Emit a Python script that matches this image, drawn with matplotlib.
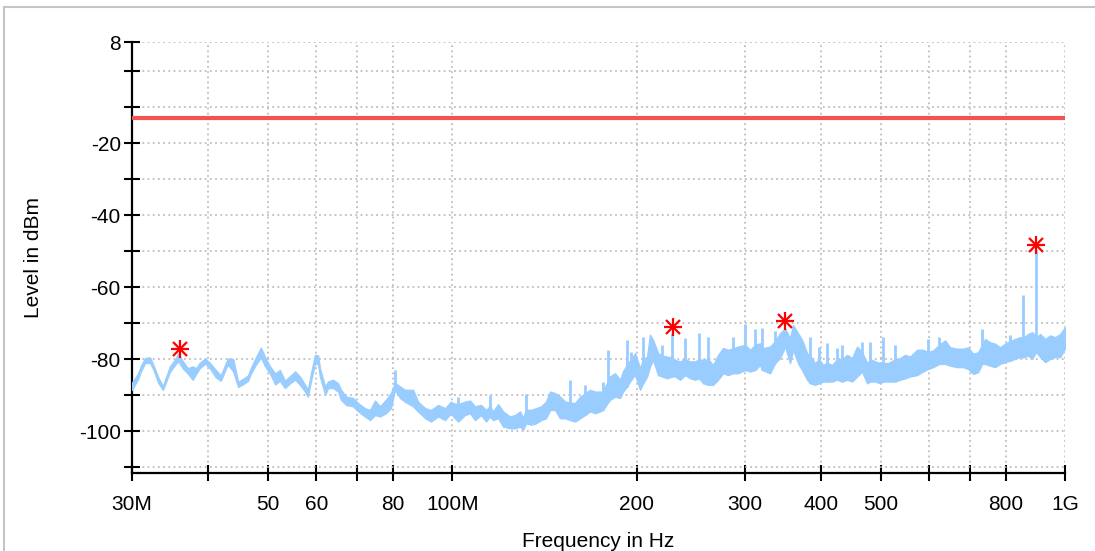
"""
EMI scan: measured level vs. frequency with limit line and peak markers.
"""
import matplotlib
matplotlib.use("Agg")
import matplotlib.pyplot as plt
from matplotlib.lines import Line2D
import numpy as np

plt.rcParams['font.family'] = ['Liberation Sans', 'DejaVu Sans']

# trace band (MHz, upper edge dBm, lower edge dBm)
freq_mhz = [30.0, 30.7, 31.0, 31.5, 32.1, 32.5, 33.1, 33.7, 34.1, 34.6, 35.3, 35.7,
            36.3, 37.0, 37.7, 38.2, 38.7, 39.5, 40.2, 41.1, 41.9, 42.6, 43.0, 43.9,
            44.7, 45.5, 46.4, 46.9, 47.8, 48.7, 49.5, 50.4, 51.4, 52.3, 53.3, 54.5,
            55.4, 56.4, 57.5, 58.1, 58.8, 59.7, 60.4, 60.8, 62.0, 62.7, 63.9, 65.1,
            65.8, 67.1, 68.9, 70.2, 72.0, 73.4, 74.8, 76.2, 77.9, 79.4, 80.6, 82.2,
            83.7, 86.3, 87.9, 90.3, 92.3, 94.8, 97.3, 99.5,
            100.3, 102.2, 104.9, 106.9, 108.9, 111.4, 113.5, 115.2, 116.5, 118.8,
            121.0, 124.2, 126.6, 129.0, 130.5, 131.9, 134.4, 137.0, 139.6, 142.2,
            144.4, 147.1, 149.9, 152.8, 155.6, 158.6, 161.6, 164.7, 167.8, 171.0,
            174.2, 176.2,
            179.5, 180.9, 184.3, 187.8, 189.9, 192.8, 195.8, 198.7, 202.5, 204.8,
            207.9, 210.2, 212.6, 216.7, 220.0, 224.1, 228.4, 231.0, 235.4, 239.8,
            244.4, 249.1, 252.8, 256.7, 261.5, 266.5, 271.5, 276.7, 281.9, 287.2,
            292.7, 300.5, 306.2, 312.0, 317.9,
            320.3, 330.1, 336.3, 342.7, 349.2, 355.8, 359.9, 366.7, 372.2, 379.3,
            383.6, 390.9, 396.8, 402.9, 409.0, 416.7, 424.6, 432.7, 440.9, 449.3,
            457.8, 466.4, 475.3, 480.7, 489.9, 499.0, 504.7, 514.3, 528.0, 538.1,
            548.3, 558.6, 573.5, 586.7,
            597.8, 609.2, 623.1, 637.3, 649.4, 666.7, 681.9, 694.9, 708.0, 721.3,
            732.2, 740.5, 754.6, 768.8, 783.5, 798.5, 813.5, 829.0, 844.9, 854.5,
            870.6, 883.9, 897.2, 910.8, 928.2, 945.7, 963.7, 982.1, 1000.0]

level_hi = [-86.5, -84.0, -82.0, -79.7, -79.5, -81.5, -85.0, -87.5, -85.0, -82.0, -80.0, -78.5,
            -80.5, -82.5, -82.0, -82.5, -81.0, -79.8, -81.0, -83.0, -84.5, -81.5, -79.8, -80.0,
            -86.3, -85.5, -84.5, -82.5, -79.5, -76.8, -79.5, -82.0, -84.0, -83.0, -86.0, -84.5,
            -83.4, -84.8, -87.1, -88.5, -83.9, -78.8, -79.0, -82.5, -87.6, -86.2, -85.7, -86.7,
            -88.5, -90.4, -90.8, -92.2, -93.6, -94.1, -91.5, -93.1, -91.3, -89.4, -86.5, -87.6,
            -88.5, -88.5, -91.8, -93.6, -94.1, -92.7, -93.6, -91.8,
            -92.2, -92.5, -91.8, -91.5, -93.1, -92.7, -94.1, -93.0, -94.5, -92.5,
            -94.5, -95.9, -95.5, -94.5, -96.4, -94.0, -94.1, -93.6, -93.1, -91.8,
            -89.0, -89.4, -90.4, -91.8, -92.0, -92.2, -90.4, -89.5, -88.5, -89.0,
            -89.0, -89.0,
            -86.0, -84.8, -83.9, -85.7, -83.4, -81.5, -80.0, -78.3, -82.5, -80.0,
            -79.3, -73.2, -74.6, -78.3, -79.0, -79.3, -79.5, -80.2, -80.6, -80.0,
            -80.6, -80.6, -80.0, -80.2, -80.0, -81.6, -78.8, -76.9, -77.4, -77.0,
            -76.5, -76.0, -77.4, -76.0, -75.6,
            -77.0, -76.5, -75.0, -72.8, -71.4, -74.2, -70.5, -72.8, -74.6, -78.3,
            -79.0, -81.1, -80.0, -81.6, -81.0, -81.6, -80.0, -80.0, -78.8, -79.7,
            -76.5, -78.0, -81.1, -80.0, -80.6, -81.1, -81.0, -81.1, -80.0, -79.7,
            -78.8, -79.3, -77.4, -77.4,
            -78.0, -77.6, -76.0, -74.8, -76.7, -77.1, -77.1, -76.7, -78.5, -78.1,
            -76.0, -74.4, -75.3, -75.7, -76.7, -75.7, -75.0, -74.4, -73.9, -74.0,
            -73.0, -72.5, -74.0, -73.0, -74.4, -73.4, -73.9, -73.0, -71.1]

level_lo = [-88.5, -85.5, -83.5, -81.1, -81.0, -82.8, -86.5, -88.5, -86.3, -83.5, -81.5, -80.5,
            -82.5, -84.0, -85.7, -84.0, -82.5, -81.2, -82.5, -85.0, -86.0, -83.0, -81.5, -83.4,
            -87.7, -87.0, -86.0, -84.0, -81.5, -79.5, -82.0, -84.0, -87.0, -86.0, -88.0, -86.5,
            -85.7, -87.1, -89.0, -90.4, -86.0, -81.1, -81.5, -84.8, -89.9, -88.0, -88.0, -89.0,
            -91.3, -92.7, -93.1, -94.5, -95.9, -96.9, -95.5, -95.9, -95.0, -93.6, -88.5, -90.8,
            -91.8, -93.1, -94.5, -96.4, -97.3, -95.9, -96.9, -95.0,
            -95.9, -97.3, -95.5, -95.0, -96.9, -95.5, -97.3, -95.9, -96.9, -96.4,
            -98.7, -99.2, -99.2, -98.7, -99.6, -97.8, -98.2, -97.8, -96.9, -96.4,
            -94.1, -94.1, -96.4, -96.4, -96.9, -97.3, -96.4, -95.5, -94.5, -95.0,
            -94.5, -94.1,
            -92.0, -91.3, -90.4, -90.8, -89.0, -87.6, -85.7, -84.4, -88.5, -86.7,
            -84.8, -82.0, -80.2, -84.4, -84.8, -85.3, -84.8, -84.8, -85.7, -84.4,
            -85.3, -85.7, -85.3, -86.7, -87.1, -87.1, -85.7, -83.9, -84.4, -83.9,
            -83.9, -83.0, -83.4, -83.0, -81.6,
            -83.0, -83.9, -81.1, -79.7, -76.5, -81.1, -77.4, -81.1, -83.0, -85.7,
            -86.7, -87.1, -86.7, -86.2, -86.2, -86.2, -85.7, -86.2, -85.7, -86.2,
            -84.8, -83.4, -86.7, -86.2, -86.2, -86.7, -86.2, -86.2, -86.2, -85.7,
            -85.3, -84.8, -84.4, -83.4,
            -82.7, -82.2, -81.3, -81.3, -81.8, -82.2, -82.2, -82.7, -84.1, -83.6,
            -81.3, -81.3, -81.8, -82.2, -81.3, -80.8, -80.4, -79.9, -79.4, -79.5,
            -79.0, -79.9, -78.0, -79.4, -80.8, -79.9, -79.4, -79.4, -77.0]

# narrow spurs rising above the noise band
spike_mhz = [80.6, 102.2, 115.2, 131.9, 155.6, 164.7, 176.2, 179.5, 192.8, 195.8,
             204.8, 220.0, 228.4, 239.8, 252.8, 261.5, 287.2, 300.5, 312.0, 320.3,
             336.3, 383.6, 396.8, 409.0, 424.6, 432.7, 466.4, 480.7, 504.7, 528.0,
             597.8, 623.1, 732.2, 813.5, 854.5, 897.2]
spike_top = [-83.0, -90.4, -89.9, -89.6, -85.7, -87.1, -86.2, -77.4, -74.6, -77.9,
             -73.7, -76.0, -72.8, -74.2, -72.8, -73.7, -73.7, -70.2, -71.7, -71.4,
             -72.3, -73.7, -76.5, -75.6, -76.9, -76.0, -75.1, -75.1, -73.7, -76.0,
             -74.4, -73.9, -71.6, -73.4, -62.1, -49.8]

# peak markers
peak_mhz = [35.9, 229.3, 349.2, 897.2]
peak_dbm = [-77.2, -71.1, -69.3, -48.4]

limit_dbm = -13

xtick_mhz = [30, 40, 50, 60, 70, 80, 100, 200, 300, 400, 500, 600, 700, 800, 1000]
xtick_lbl = ['30M', '', '50', '60', '', '80', '100M', '200', '300', '400', '500',
             '', '', '800', '1G']
ytick_val = [8, 0, -10, -20, -30, -40, -50, -60, -70, -80, -90, -100, -110]
ytick_lbl = ['8', '', '', '-20', '', '-40', '', '-60', '', '-80', '', '-100', '']

trace_col = '#99ccff'

fig = plt.figure(figsize=(10.95, 5.51), dpi=100)
ax = fig.add_axes([0.1205, 0.1416, 0.8521, 0.7816])

f = np.array(freq_mhz) * 1e6
ax.fill_between(f, level_lo, level_hi, color=trace_col, lw=1.0, zorder=3)
lo_at = [level_lo[freq_mhz.index(s)] for s in spike_mhz]
ax.vlines(np.array(spike_mhz) * 1e6, lo_at, spike_top, color=trace_col, lw=2, zorder=3)

ax.axhline(limit_dbm, color='#f25252', lw=3, zorder=4)

pk = np.array(peak_mhz) * 1e6
ax.plot(pk, peak_dbm, ls='none', marker='+', ms=13, mew=1.6, color='red', zorder=5)
ax.plot(pk, peak_dbm, ls='none', marker='x', ms=9.5, mew=1.6, color='red', zorder=5)

ax.set_xscale('log')
ax.set_xlim(30e6, 1e9)
ax.set_ylim(-111.6, 8)
ax.xaxis.set_minor_locator(matplotlib.ticker.NullLocator())
ax.set_xticks(np.array(xtick_mhz) * 1e6)
ax.set_xticklabels(xtick_lbl)
ax.set_yticks(ytick_val)
ax.set_yticklabels(ytick_lbl)

ax.grid(True, color='#b4b4b4', ls=(0, (1.2, 2.2)), lw=1.1, zorder=1)
for s in ('top', 'right'):
    ax.spines[s].set_visible(False)
for s in ('left', 'bottom'):
    ax.spines[s].set_linewidth(1.6)
ax.tick_params(axis='both', direction='inout', length=12, width=1.5, labelsize=15)
ax.tick_params(axis='y', pad=2)
ax.tick_params(axis='x', pad=10)

ax.set_xlabel('Frequency in Hz', fontsize=15, labelpad=13)
ax.set_ylabel('Level in dBm', fontsize=15, labelpad=26)

# light frame around the plot
fig.add_artist(Line2D([0.004, 0.004], [0.0, 0.988], color='#c4c4c4', lw=1.5))
fig.add_artist(Line2D([0.004, 1.0], [0.988, 0.988], color='#c4c4c4', lw=1.5))

fig.savefig('out.png', dpi=100)
